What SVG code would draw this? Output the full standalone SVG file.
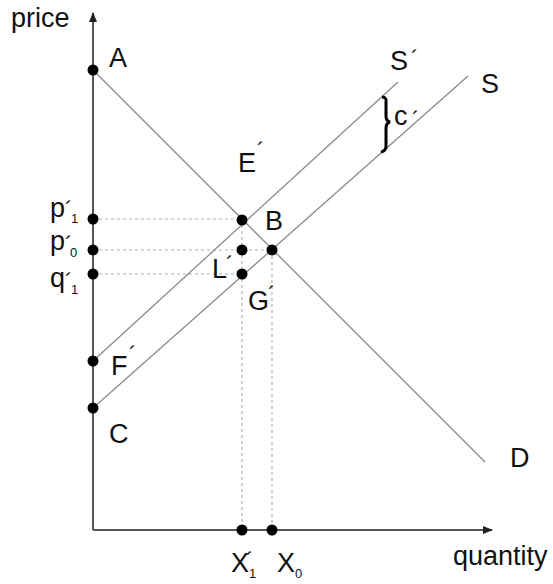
<svg xmlns="http://www.w3.org/2000/svg" width="553" height="584" viewBox="0 0 553 584">
<style>
.t{font-family:"Liberation Sans",Arial,sans-serif;font-size:27px;fill:#111}
.pr{font-size:22px}
.sb{font-size:13px}
.ax{stroke:#555;stroke-width:2;fill:none}
.cv{stroke:#8a8a8a;stroke-width:1.3;fill:none}
.ds{stroke:#b0b0b0;stroke-width:1.2;stroke-dasharray:3 3;fill:none}
.dot{fill:#000}
</style>
<defs>
<marker id="ah" markerWidth="10" markerHeight="8" refX="9" refY="4" orient="auto" markerUnits="userSpaceOnUse">
<path d="M0,0 L10,4 L0,8 Z" fill="#222"/>
</marker>
</defs>
<rect width="553" height="584" fill="#fff"/>
<g id="connectors">
<line class="ds" x1="93" y1="219" x2="242" y2="219"/>
<line class="ds" x1="93" y1="250" x2="272" y2="250"/>
<line class="ds" x1="93" y1="274" x2="242" y2="274"/>
<line class="ds" x1="242" y1="219" x2="242" y2="530"/>
<line class="ds" x1="272" y1="250" x2="272" y2="530"/>
<line id="D" class="cv" x1="93" y1="70" x2="485" y2="462"/>
<line id="S" class="cv" x1="93" y1="408" x2="468" y2="76"/>
<line id="S2" class="cv" x1="93" y1="361" x2="398" y2="82"/>
<line class="ax" x1="93" y1="530" x2="93" y2="13" marker-end="url(#ah)"/>
<line class="ax" x1="93" y1="530" x2="492" y2="530" marker-end="url(#ah)"/>
<path d="M382 97 Q387 97 386 103 L386 116 Q386 121 390 122 Q386 123 386 128 L386 146 Q386 151 381 152" stroke="#000" stroke-width="3" fill="none"/>
</g>
<g id="nodeA"><circle class="dot" cx="93" cy="70" r="5.5"/><text class="t" x="109" y="67">A</text></g>
<g id="nodeP1"><circle class="dot" cx="93" cy="219" r="5.5"/><text class="t" x="50" y="217">p<tspan class="pr" x="65" y="217">´</tspan><tspan class="sb" x="71" y="223">1</tspan></text></g>
<g id="nodeP0"><circle class="dot" cx="93" cy="250" r="5.5"/><text class="t" x="50" y="250">p<tspan class="pr" x="65" y="252">´</tspan><tspan class="sb" x="70" y="257">0</tspan></text></g>
<g id="nodeQ1"><circle class="dot" cx="93" cy="274" r="5.5"/><text class="t" x="50" y="287">q<tspan class="pr" x="65" y="289">´</tspan><tspan class="sb" x="71" y="294">1</tspan></text></g>
<g id="nodeF"><circle class="dot" cx="93" cy="361" r="5.5"/><text class="t" x="111" y="375">F<tspan class="pr" x="129" y="362">´</tspan></text></g>
<g id="nodeC"><circle class="dot" cx="93" cy="408" r="5.5"/><text class="t" x="109" y="443">C</text></g>
<g id="nodeE"><circle class="dot" cx="242" cy="220" r="5.5"/><text class="t" x="238" y="172">E<tspan class="pr" x="257" y="158">´</tspan></text></g>
<g id="nodeB"><circle class="dot" cx="272" cy="250" r="5.5"/><text class="t" x="265" y="230">B</text></g>
<g id="nodeL"><circle class="dot" cx="242" cy="250" r="5.5"/><text class="t" x="212" y="278">L<tspan class="pr" x="226" y="272">´</tspan></text></g>
<g id="nodeG"><circle class="dot" cx="242" cy="274" r="5.5"/><text class="t" x="248" y="310">G<tspan class="pr" x="268" y="302">´</tspan></text></g>
<g id="nodeX1"><circle class="dot" cx="242" cy="530" r="5.5"/><text class="t" x="231" y="572">X<tspan class="pr" x="246" y="568">´</tspan><tspan class="sb" x="249" y="578">1</tspan></text></g>
<g id="nodeX0"><circle class="dot" cx="272" cy="530" r="5.5"/><text class="t" x="277" y="572">X<tspan class="sb" x="295" y="578">0</tspan></text></g>
<g id="labels">
<text class="t" x="11" y="27">price</text>
<text class="t" x="453" y="565">quantity</text>
<text class="t" x="510" y="467">D</text>
<text class="t" x="481" y="93">S</text>
<text class="t" x="390" y="70">S<tspan class="pr" x="411" y="66">´</tspan></text>
<text class="t" x="394" y="125">c<tspan class="pr" x="412" y="127">´</tspan></text>
</g>
</svg>
